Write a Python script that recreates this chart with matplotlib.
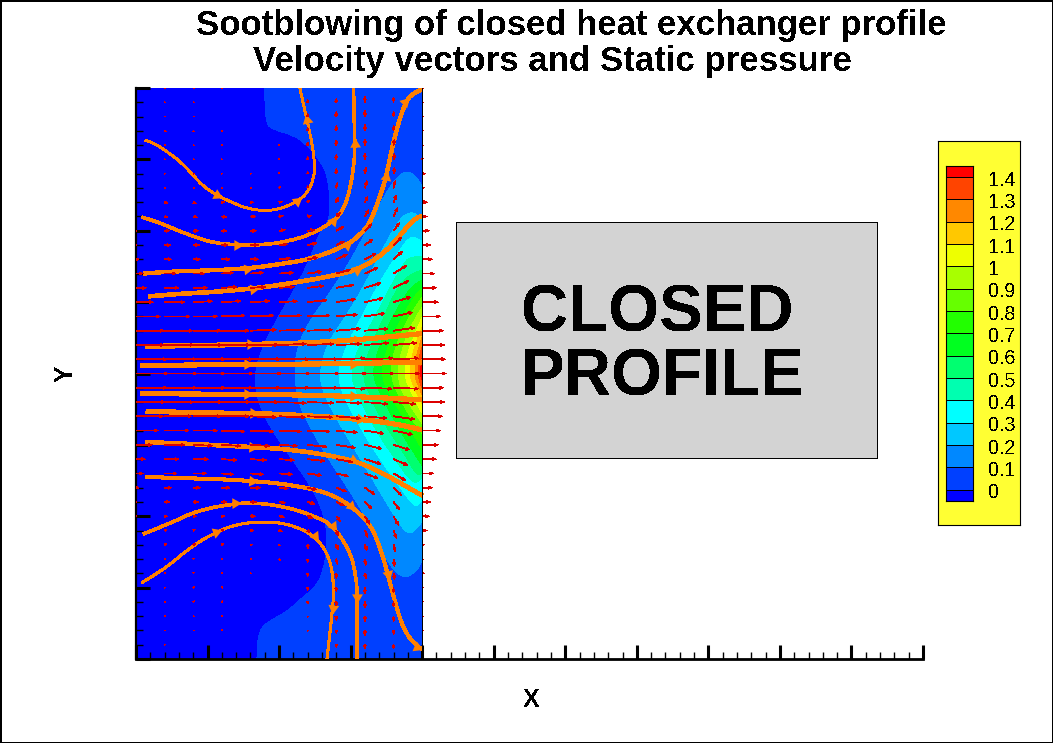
import numpy as np
import matplotlib
matplotlib.use("Agg")
import matplotlib.pyplot as plt
from matplotlib.path import Path
from matplotlib.patches import PathPatch, Rectangle

# contour levels and band colours (lowest band is below level 0)
level_values = [0, 0.1, 0.2, 0.3, 0.4, 0.5, 0.6, 0.7, 0.8, 0.9, 1, 1.1, 1.2, 1.3, 1.4]
band_colors = ['#0000ff', '#0040ff', '#0088ff', '#00c8ff', '#00ffff', '#00ffb0', '#00ff70', '#00ff20',
               '#22ff00', '#66ff00', '#a8ff00', '#eeff00', '#ffc800', '#ff8800', '#ff4400', '#ff0000']

# contour lines, (x, y), from the top of the wall round to the bottom
level_00 = [(1.80, 4), (1.80, 3.53), (1.90, 3.42), (2.20, 3.34), (2.39, 3.20), (2.55, 3.01), (2.67, 2.80),
            (2.71, 2.48), (2.71, 2.15), (2.57, 2.00), (2.43, 1.60), (2.23, 1.20), (1.99, .80), (1.78, .40),
            (1.65, 0), (1.70, -.40), (1.90, -.80), (2.18, -1.20), (2.46, -1.60), (2.64, -2), (2.68, -2.40),
            (2.61, -2.80), (2.50, -3.0), (2.25, -3.2), (2.11, -3.34), (1.87, -3.46), (1.71, -3.6), (1.69, -4)]
level_01 = [(4, 2.62), (3.93, 2.76), (3.79, 2.84), (3.65, 2.76), (3.46, 2.48), (3.23, 2.01), (2.95, 1.50),
            (2.67, 1.07), (2.43, .75), (2.25, .37), (2.21, 0), (2.27, -.42), (2.43, -.75), (2.67, -1.17),
            (2.95, -1.59), (3.18, -1.96), (3.39, -2.34), (3.55, -2.71), (3.76, -2.88), (3.93, -2.76), (4, -2.62)]
level_02 = [(4, 2.15), (3.93, 2.24), (3.80, 2.26), (3.65, 2.12), (3.44, 1.73), (3.18, 1.21), (2.90, .75),
            (2.67, .42), (2.56, 0), (2.62, -.28), (2.81, -.65), (3.09, -1.12), (3.37, -1.59), (3.65, -2.06),
            (3.81, -2.27), (3.95, -2.15), (4, -2.06)]
level_03 = [(4, 1.85), (3.92, 1.91), (3.80, 1.90), (3.60, 1.59), (3.37, 1.22), (3.18, .84), (2.95, .42),
            (2.81, 0), (2.90, -.33), (3.13, -.75), (3.41, -1.21), (3.69, -1.59), (3.90, -1.89), (4, -1.78)]
level_04 = [(4, 1.64), (3.83, 1.64), (3.74, 1.54), (3.55, 1.21), (3.32, .75), (3.13, .42), (2.99, 0),
            (3.09, -.28), (3.32, -.75), (3.60, -1.17), (3.88, -1.57), (4, -1.45)]
level_05 = [(4, 1.45), (3.81, 1.40), (3.60, 1.12), (3.45, .75), (3.27, .37), (3.16, 0), (3.25, -.28),
            (3.46, -.70), (3.72, -1.07), (3.93, -1.45), (4, -1.38)]
level_06 = [(4, 1.31), (3.88, 1.26), (3.65, .93), (3.39, .37), (3.30, 0), (3.39, -.23), (3.60, -.65),
            (3.83, -1.03), (4, -1.29)]
level_07 = [(4, 1.19), (3.95, 1.17), (3.74, .84), (3.51, .37), (3.42, 0), (3.53, -.28), (3.74, -.61), (4, -1.07)]
level_08 = [(4, 1.07), (3.83, .84), (3.62, .37), (3.55, 0), (3.65, -.28), (3.83, -.61), (4, -.84)]
level_09 = [(4, .93), (3.90, .79), (3.72, .37), (3.65, 0), (3.72, -.28), (4, -.70)]
level_10 = [(4, .79), (3.81, .37), (3.74, 0), (3.83, -.23), (4, -.56)]
level_11 = [(4, .65), (3.87, .33), (3.82, 0), (3.88, -.19), (4, -.42)]
level_12 = [(4, .51), (3.93, .33), (3.89, 0), (3.93, -.14), (4, -.30)]
level_13 = [(4, .37), (3.96, .28), (3.94, 0), (3.97, -.14), (4, -.21)]
level_14 = [(4, .23), (3.99, .14), (3.97, 0), (4, -.09)]
contours = [level_00, level_01, level_02, level_03, level_04, level_05, level_06, level_07,
            level_08, level_09, level_10, level_11, level_12, level_13, level_14]

# velocity vectors on the mesh
vec_x = [0, .4, .8, 1.2, 1.6, 2, 2.4, 2.8, 3.2, 3.6, 4]
vec_y = [4, 3.8, 3.6, 3.4, 3.2, 3, 2.8, 2.6, 2.4, 2.2, 2, 1.8, 1.6, 1.4, 1.2, 1, .8, .6, .4, .2, 0,
         -.2, -.4, -.6, -.8, -1, -1.2, -1.4, -1.6, -1.8, -2, -2.2, -2.4, -2.6, -2.8, -3, -3.2, -3.4, -3.6, -3.8, -4]
vec_u = [[0, 1, 1, 1, 0, 0, 0, 0, 0, 0, 1],
         [0, 1, 1, 0, 0, 0, 0, 0, 0, 0, 1],
         [0, 1, 1, 0, 0, 0, 0, 0, 0, 0, 1],
         [0, 2, 1, 1, 0, 0, 0, 0, 0, 0, 1],
         [0, 1, 1, 1, 0, 0, 0, 0, 0, 1, 1],
         [0, 1, 1, 1, 0, 0, 0, 0, 0, 1, 1],
         [0, 1, 1, 1, 1, 0, 0, 0, 1, 1, 3],
         [0, 1, 1, 1, 1, 1, 0, 1, 2, 2, 2],
         [0, 3, 3, 3, 3, 3, 2, 2, 3, 3, 5],
         [0, 3, 4, 5, 5, 4, 4, 4, 4, 4, 5],
         [1, 5, 5, 5, 6, 6, 7, 7, 7, 6, 7],
         [1, 6, 6, 6, 8, 8, 9, 8, 8, 8, 8],
         [3, 7, 7, 8, 8, 11, 10, 11, 11, 9, 10],
         [7, 11, 11, 12, 13, 14, 14, 14, 13, 13, 12],
         [10, 14, 14, 15, 15, 15, 16, 17, 16, 15, 14],
         [17, 20, 19, 19, 19, 18, 19, 19, 18, 17, 16],
         [24, 25, 24, 23, 23, 22, 22, 21, 20, 19, 18],
         [28, 28, 28, 27, 26, 26, 25, 24, 23, 21, 21],
         [28, 29, 29, 28, 28, 27, 26, 25, 24, 23, 22],
         [31, 32, 32, 31, 30, 30, 30, 29, 28, 25, 23],
         [32, 32, 32, 31, 31, 31, 31, 30, 29, 26, 24],
         [31, 32, 32, 31, 30, 30, 30, 29, 27, 25, 21],
         [29, 29, 29, 28, 28, 27, 26, 25, 23, 22, 22],
         [27, 27, 28, 27, 26, 26, 25, 24, 22, 21, 20],
         [22, 24, 24, 23, 23, 22, 22, 21, 19, 19, 18],
         [16, 20, 19, 19, 19, 18, 19, 19, 17, 16, 16],
         [9, 14, 15, 15, 16, 15, 17, 16, 16, 14, 14],
         [7, 12, 13, 12, 13, 13, 14, 12, 13, 12, 11],
         [3, 7, 7, 8, 10, 9, 9, 10, 10, 8, 10],
         [1, 5, 5, 5, 6, 6, 7, 8, 7, 6, 8],
         [1, 3, 3, 3, 5, 5, 5, 4, 5, 5, 7],
         [0, 2, 2, 2, 3, 3, 2, 2, 3, 3, 5],
         [0, 2, 2, 2, 2, 1, 0, 2, 2, 2, 2],
         [0, 1, 1, 1, 1, 1, 0, 1, 1, 1, 1],
         [0, 1, 1, 1, 1, 0, 0, 0, 1, 1, 2],
         [0, 1, 1, 1, 0, 0, 0, 0, 0, 0, 1],
         [0, 1, 1, 1, 0, 0, 0, 0, 0, 0, 1],
         [0, 1, 1, 1, 0, 0, 0, 0, 0, 0, 1],
         [0, 1, 1, 1, 0, 0, 0, 0, 0, 0, 1],
         [0, 1, 0, 0, 0, 0, 0, 0, 0, 0, 0],
         [0, 0, 0, 0, 0, 0, 0, 0, 0, 0, 0]]
vec_v = [[0, 0, 0, 0, 0, 0, 0, 0, 0, 0, 0],
         [0, 0, 0, 0, 0, 0, 3, 4, 6, 5, 0],
         [0, 0, 0, 0, 0, 0, 3, 5, 6, 5, 0],
         [0, -1, -1, 0, 0, 0, 3, 5, 6, 5, 0],
         [0, 0, 0, 0, 0, 1, 3, 5, 6, 6, 0],
         [0, 0, 0, 0, 0, 1, 3, 5, 6, 6, 1],
         [0, 0, 0, 0, 0, 1, 2, 5, 6, 6, 0],
         [0, -1, 0, 0, 0, 1, 2, 5, 7, 7, 0],
         [0, -1, -1, 0, 0, 1, 2, 5, 6, 7, 0],
         [0, -1, -1, -1, 0, 1, 1, 4, 7, 9, 0],
         [0, 0, 0, 0, 0, 1, 1, 4, 7, 8, 0],
         [0, 0, 0, 0, 0, 1, 2, 4, 6, 8, 0],
         [0, 0, 0, 0, 0, 1, 2, 5, 6, 8, 0],
         [0, 0, 0, 1, 1, 1, 2, 4, 6, 8, 0],
         [0, 0, 0, 1, 1, 1, 2, 3, 5, 7, 0],
         [0, 0, 1, 1, 1, 1, 2, 3, 4, 5, 0],
         [0, 0, 0, 1, 1, 1, 1, 2, 3, 4, 0],
         [0, 0, 0, 0, 1, 1, 1, 2, 2, 3, 0],
         [0, 0, 0, 0, 0, 1, 1, 1, 2, 2, 0],
         [0, 0, 0, 0, 0, 0, 0, 1, 1, 1, 0],
         [0, 0, 0, 0, 0, 0, 0, 0, 0, 0, 0],
         [0, 0, 0, 0, 0, 0, 0, -1, -1, -1, 0],
         [0, 0, 0, 0, 0, -1, -1, -1, -2, -2, 0],
         [0, 0, 0, 0, -1, -1, -1, -2, -2, -3, 0],
         [0, 0, 0, -1, -1, -1, -1, -2, -3, -4, 0],
         [0, 0, -1, -1, -1, -1, -2, -3, -4, -5, 0],
         [0, 0, 0, -1, -1, -1, -2, -3, -5, -6, 0],
         [0, 0, 0, -1, -1, -1, -2, -3, -5, -7, 0],
         [0, 0, 0, 0, 0, -1, -2, -4, -7, -8, 0],
         [0, 0, 0, 0, 0, -1, -2, -4, -7, -8, 0],
         [0, 0, 0, 0, 0, -1, -2, -5, -8, -9, 0],
         [0, 1, 1, 1, 0, -1, -2, -5, -7, -8, 0],
         [0, 1, 1, 1, 0, -1, -4, -5, -6, -7, 0],
         [0, 1, 1, 0, 0, -1, -3, -5, -6, -7, 0],
         [0, 1, 1, 1, 0, 0, -3, -5, -5, -6, 0],
         [0, 0, 1, 1, 0, 0, -3, -4, -6, -5, 0],
         [0, 0, 1, 1, 0, 0, -2, -4, -6, -5, 0],
         [0, 0, 0, 1, 0, 0, -1, -4, -5, -5, 0],
         [0, 0, 0, 1, 0, 0, -1, -3, -5, -4, 0],
         [0, 0, 0, 0, 0, 0, 0, -3, -4, -4, 0],
         [0, 0, 0, 0, 0, 0, 0, 0, 0, 0, 0]]

# streamlines, (x, y) in flow direction
stream_01 = [(.13, 3.27), (.27, 3.22), (.43, 3.11), (.62, 2.97), (.78, 2.80), (.94, 2.62), (1.13, 2.50), (1.31, 2.41),
             (1.55, 2.31), (1.78, 2.28), (2.01, 2.30), (2.25, 2.41), (2.39, 2.52), (2.48, 2.71), (2.50, 2.90),
             (2.47, 3.18), (2.39, 3.55), (2.29, 4.0)]
stream_02 = [(.08, 2.19), (.29, 2.13), (.52, 2.03), (.80, 1.92), (1.08, 1.83), (1.41, 1.80), (1.78, 1.80), (2.11, 1.85),
             (2.43, 1.94), (2.76, 2.13), (2.90, 2.29), (2.99, 2.57), (3.05, 2.94), (3.06, 3.22), (3.05, 3.55), (3.04, 4.0)]
stream_03 = [(.10, 1.40), (.48, 1.43), (.94, 1.44), (1.55, 1.47), (2.01, 1.53), (2.48, 1.61), (2.95, 1.80), (3.13, 1.94),
             (3.27, 2.10), (3.41, 2.48), (3.50, 2.76), (3.60, 3.27), (3.76, 3.81), (3.88, 3.93), (4.0, 3.98)]
stream_04 = [(.17, 1.08), (.62, 1.12), (1.08, 1.14), (1.64, 1.19), (2.15, 1.26), (2.71, 1.36), (3.09, 1.45), (3.37, 1.61),
             (3.60, 1.82), (3.79, 2.06), (3.93, 2.19), (4.0, 2.20)]
stream_05 = [(.13, .38), (.85, .39), (1.59, .41), (2.25, .42), (3.09, .47), (4.0, .56)]
stream_06 = [(.06, .11), (.85, .12), (1.55, .13), (2.25, .13), (3.04, .14), (4.0, .16)]
stream_07 = [(.06, -.28), (.85, -.29), (1.55, -.29), (2.25, -.30), (3.04, -.32), (4, -.37)]
stream_08 = [(.14, -.53), (.85, -.55), (1.64, -.56), (2.25, -.58), (3.13, -.64), (3.60, -.70), (4, -.79)]
stream_09 = [(.13, -.96), (.85, -.99), (1.62, -1.03), (2.25, -1.07), (3.04, -1.21), (3.46, -1.40), (4, -1.71)]
stream_10 = [(.13, -1.45), (.85, -1.47), (1.62, -1.50), (2.25, -1.57), (2.71, -1.68), (3.00, -1.85), (3.27, -2.10),
             (3.41, -2.43), (3.52, -2.81), (3.60, -3.13), (3.74, -3.60), (3.93, -3.83), (4, -3.86)]
stream_11 = [(.10, -2.25), (.48, -2.10), (.85, -1.92), (1.38, -1.82), (1.69, -1.81), (2.11, -1.87), (2.53, -2.01),
             (2.75, -2.13), (2.99, -2.48), (3.08, -2.85), (3.09, -3.13), (3.09, -3.46), (3.09, -4)]
stream_12 = [(.08, -2.93), (.38, -2.76), (.76, -2.43), (1.12, -2.22), (1.41, -2.11), (1.78, -2.07), (2.15, -2.11),
             (2.50, -2.27), (2.71, -2.57), (2.77, -2.99), (2.75, -3.28), (2.67, -4)]
streams = [stream_01, stream_02, stream_03, stream_04, stream_05, stream_06,
           stream_07, stream_08, stream_09, stream_10, stream_11, stream_12]
stream_widths = [1.4, 1.9, 2.4, 2.6, 3, 3, 3, 3, 2.6, 2.2, 1.9, 1.5]
stream_arrows = [[6, 11, 16], [5, 9, 13], [3, 6, 10, 12], [3, 6], [2, 4], [2, 4],
                 [2, 4], [2, 4], [2, 4], [2, 5, 8, 11], [3, 7, 10], [3, 7, 10]]

title_1 = 'Sootblowing of closed heat exchanger profile'
title_2 = 'Velocity vectors and Static pressure'
W, H = 1053, 743
ORANGE = '#ff8000'
WALL_X = 4
plt.rcParams['font.family'] = ['Liberation Sans', 'DejaVu Sans']
plt.rcParams['text.antialiased'] = False


def smooth_verts(points):
    # quadratic curve through the midpoints of the read points
    verts = [points[0]]
    codes = [Path.MOVETO]
    for a, b in zip(points[1:-1], points[2:]):
        verts += [a, ((a[0] + b[0]) / 2, (a[1] + b[1]) / 2)]
        codes += [Path.CURVE3, Path.CURVE3]
    verts.append(points[-1])
    codes.append(Path.LINETO)
    return verts, codes


def fig_box(x0, y0, x1, y1):
    # picture corners to figure fractions
    return [x0 / W, 1 - y1 / H, (x1 - x0) / W, (y1 - y0) / H]


def label(x, y, s, size, **kw):
    fig.text(x / W, 1 - y / H, s, fontsize=size, fontweight='bold', va='center', **kw)


fig = plt.figure(figsize=(W / 100, H / 100), dpi=100)
fig.patch.set_edgecolor('black')
fig.patch.set_linewidth(2)

ax = fig.add_axes(fig_box(136, 88, 923, 659))
ax.set_xlim(0, 11)
ax.set_ylim(-4, 4)

# filled contour bands, painted from the lowest up
ax.add_patch(Rectangle((0, -4), WALL_X, 8, color=band_colors[0], lw=0, antialiased=False, zorder=1))
for points, color in zip(contours, band_colors[1:]):
    verts, codes = smooth_verts(points)
    verts += [(WALL_X, points[-1][1]), (WALL_X, points[0][1]), points[0]]
    codes += [Path.LINETO, Path.LINETO, Path.CLOSEPOLY]
    ax.add_patch(PathPatch(Path(verts, codes), facecolor=color, lw=0, antialiased=False, zorder=1))

# vectors, lengths in pixels of the picture
gx, gy = np.meshgrid(vec_x, vec_y)
u = np.array(vec_u, dtype=float)
v = np.array(vec_v, dtype=float)
moving = (u != 0) | (v != 0)
ax.quiver(gx[moving], gy[moving], u[moving], v[moving], color='#dc0000', angles='xy', scale_units='xy',
          scale=71.5, units='dots', width=0.8, headwidth=3.5, headlength=4.5, headaxislength=3.5,
          minlength=0.3, antialiased=False, zorder=6)

# streamlines with their arrowheads
for points, lw, arrows in zip(streams, stream_widths, stream_arrows):
    verts, codes = smooth_verts(points)
    ax.add_patch(PathPatch(Path(verts, codes), facecolor='none', edgecolor=ORANGE, lw=lw,
                           antialiased=False, capstyle='butt', zorder=5))
    for i in arrows:
        angle = np.degrees(np.arctan2(points[i + 1][1] - points[i][1], points[i + 1][0] - points[i][0]))
        ax.plot(points[i][0], points[i][1], marker=(3, 0, angle - 90), ms=9, color=ORANGE, mew=0,
                antialiased=False, zorder=5)

ax.plot([WALL_X, WALL_X], [-4, 4], color='black', lw=0.7, antialiased=False, zorder=7)

# closed profile block
ax.add_patch(Rectangle((4.476, -1.18), 5.884, 3.30, facecolor='#d3d3d3', edgecolor='black', lw=0.6,
                       antialiased=False, zorder=2))
label(521, 315, 'CLOSED', 47.2)
label(521, 379, 'PROFILE', 47.2)

# axes: ticks only, no labels
for side in ['top', 'right']:
    ax.spines[side].set_visible(False)
ax.spines['left'].set_linewidth(1.6)
ax.spines['bottom'].set_linewidth(2)
ax.set_xticks(np.arange(0, 12))
ax.set_xticks(np.arange(0, 11.01, .2), minor=True)
ax.set_yticks(np.arange(-4, 5))
ax.set_yticks(np.arange(-4, 4.01, .2), minor=True)
ax.tick_params(which='major', direction='in', length=10, width=2.2, labelbottom=False, labelleft=False)
ax.tick_params(which='minor', direction='in', length=5, width=1)
ax.set_axisbelow(False)
ax.patch.set_alpha(0)

# titles and axis letters
label(571, 26, title_1, 25, ha='center')
label(552, 62, title_2, 25.1, ha='center')
label(66, 374, 'Y', 18, ha='center', rotation=90)
label(531, 700, 'X', 18, ha='center')

# contour legend
box = fig.add_axes(fig_box(938, 141, 1019.5, 525), facecolor='#ffff33')
box.set_xticks([])
box.set_yticks([])
bar = fig.add_axes(fig_box(945.5, 166, 972.5, 500.7))
edges = [-0.05] + level_values + [1.45]
bar.pcolormesh([0, 1], edges, np.arange(16).reshape(16, 1), cmap=matplotlib.colors.ListedColormap(band_colors),
               edgecolors='black', linewidth=0.5)
bar.set_xticks([])
bar.set_yticks([])
for lev in level_values:
    bar.annotate('%g' % lev, xy=(1, lev), xycoords=('axes fraction', 'data'), xytext=(11.2, -2.3),
                 textcoords='offset points', va='center', fontsize=14.2)

fig.savefig('out.png', dpi=100)
